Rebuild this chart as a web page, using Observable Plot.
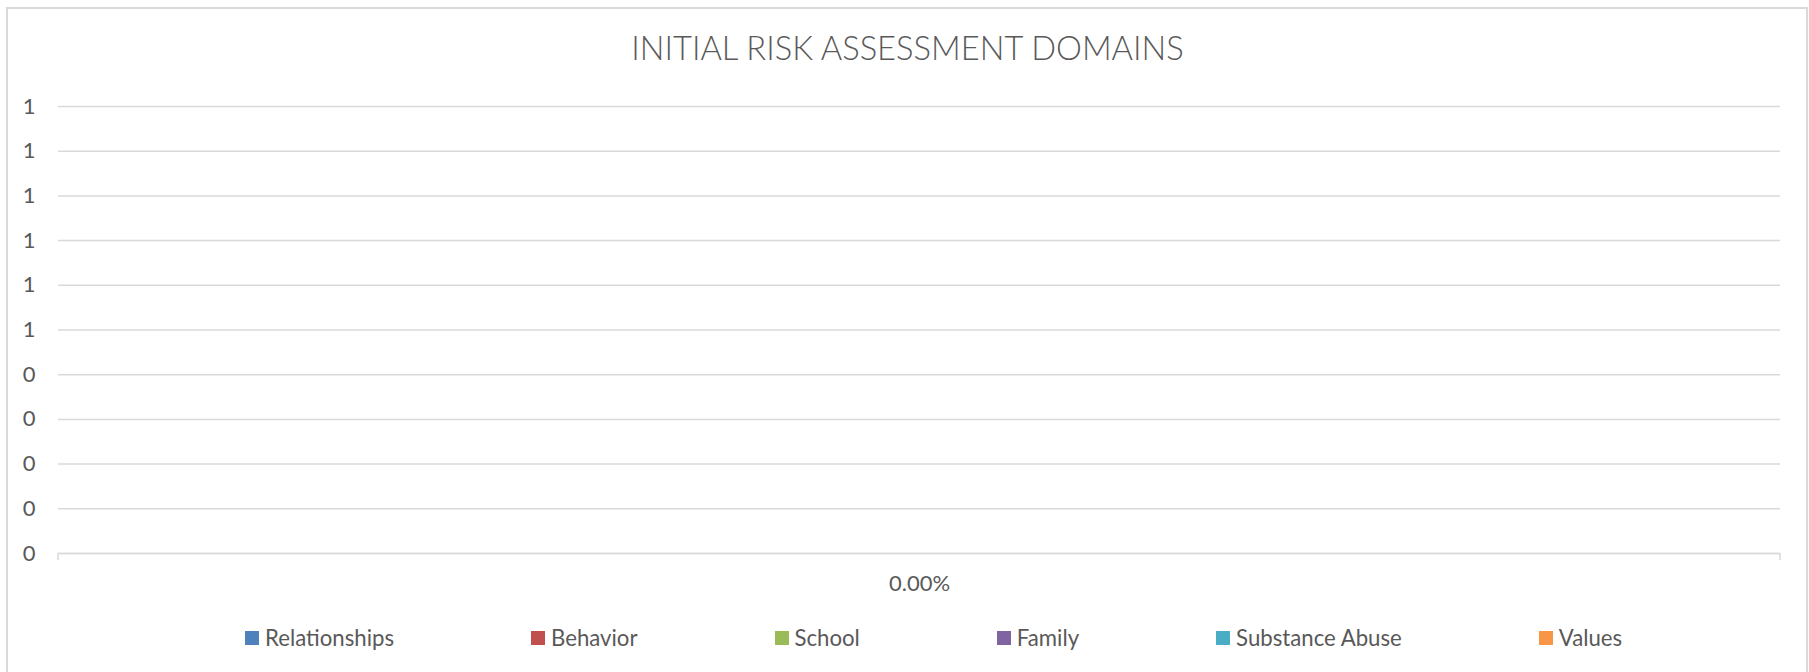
<!DOCTYPE html>
<html>
<head>
<meta charset="utf-8">
<script src="https://cdn.jsdelivr.net/npm/d3@7"></script>
<script src="https://cdn.jsdelivr.net/npm/@observablehq/plot@0.6"></script>
<style>
  html, body { margin: 0; padding: 0; background: #fff; overflow: hidden; width: 1809px; height: 672px; }
  body { position: relative; font-family: Lato, "Open Sans", sans-serif; color: #595959; }
  #frame { position: absolute; left: 6px; top: 7px; width: 1802px; height: 700px; border: 2px solid #D9D9D9; box-sizing: border-box; pointer-events: none; }
  #title { height: 80px; box-sizing: border-box; padding-top: 32px; text-align: center; font-size: 32.7px; font-weight: 300; line-height: 1; color: #595959; padding-left: 6px; }
  #chart { display: block; height: 520px; }
  #legend { display: flex; gap: 137px; padding-left: 245px; height: 72px; box-sizing: border-box; padding-top: 25px; align-items: flex-start; font-size: 22.2px; color: #595959; }
  .item { display: flex; align-items: center; gap: 6px; white-space: nowrap; line-height: 26px; }
  .sw { width: 14px; height: 14px; display: inline-block; }
</style>
</head>
<body>
<div id="frame"></div>
<div id="title">INITIAL RISK ASSESSMENT DOMAINS</div>
<div id="chart"></div>
<div id="legend"></div>
<script>
const categories = ["0.00%"];
const seriesNames = ["Relationships", "Behavior", "School", "Family", "Substance Abuse", "Values"];
const seriesColors = ["#4F81BD", "#C0504D", "#9BBB59", "#8064A2", "#4BACC6", "#F79646"];
const seriesValues = [0, 0, 0, 0, 0, 0];
const yTicks = [0, 0.1, 0.2, 0.3, 0.4, 0.5, 0.6, 0.7, 0.8, 0.9, 1];
const yTickLabels = ["0", "0", "0", "0", "0", "1", "1", "1", "1", "1", "1"];

const data = seriesNames.map((s, i) => ({category: categories[0], series: s, value: seriesValues[i]}));

// category-boundary tick marks (Excel style), placed from the x band scale
function bandEdgeTicks(index, scales, values, dims) {
  const x = scales.x, y = scales.y;
  const g = d3.create("svg:g").attr("stroke", "#D9D9D9").attr("stroke-width", 1.5);
  const bw = x.bandwidth ? x.bandwidth() : (dims.width - dims.marginLeft - dims.marginRight);
  const y0 = y(0);
  const edges = new Set();
  categories.forEach(c => { edges.add(x(c)); edges.add(x(c) + bw); });
  for (const e of edges) g.append("line").attr("x1", e).attr("x2", e).attr("y1", y0).attr("y2", y0 + 7);
  return g.node();
}

const plot = Plot.plot({
  width: 1809,
  height: 520,
  marginTop: 26,
  marginBottom: 47,
  marginLeft: 58,
  marginRight: 29,
  style: {fontFamily: "Lato, 'Open Sans', sans-serif", fontSize: "22px", color: "#595959", background: "transparent", overflow: "visible"},
  x: {domain: categories, label: null, padding: 0},
  y: {domain: [0, 1], label: null},
  color: {domain: seriesNames, range: seriesColors},
  marks: [
    Plot.gridY(yTicks, {stroke: "#D9D9D9", strokeOpacity: 1, strokeWidth: 1.5}),
    Plot.axisY({ticks: yTicks, tickFormat: (d, i) => yTickLabels[i], tickSize: 0, tickPadding: 23, fill: "#595959", fontSize: 22}),
    Plot.barY(data, Plot.groupX({y: "sum"}, {x: "category", y: "value", fill: "series"})),
    Plot.ruleY([0], {stroke: "#D9D9D9", strokeWidth: 1.5}),
    Plot.axisX({tickSize: 0, tickPadding: 22, fill: "#595959", fontSize: 22, tickFormat: d => d}),
    bandEdgeTicks
  ]
});
document.getElementById("chart").appendChild(plot);

const legend = document.getElementById("legend");
seriesNames.forEach((s, i) => {
  const it = document.createElement("div");
  it.className = "item";
  const sw = document.createElement("span");
  sw.className = "sw";
  sw.style.background = seriesColors[i];
  const t = document.createElement("span");
  t.textContent = s;
  it.appendChild(sw); it.appendChild(t);
  legend.appendChild(it);
});
</script>
</body>
</html>
